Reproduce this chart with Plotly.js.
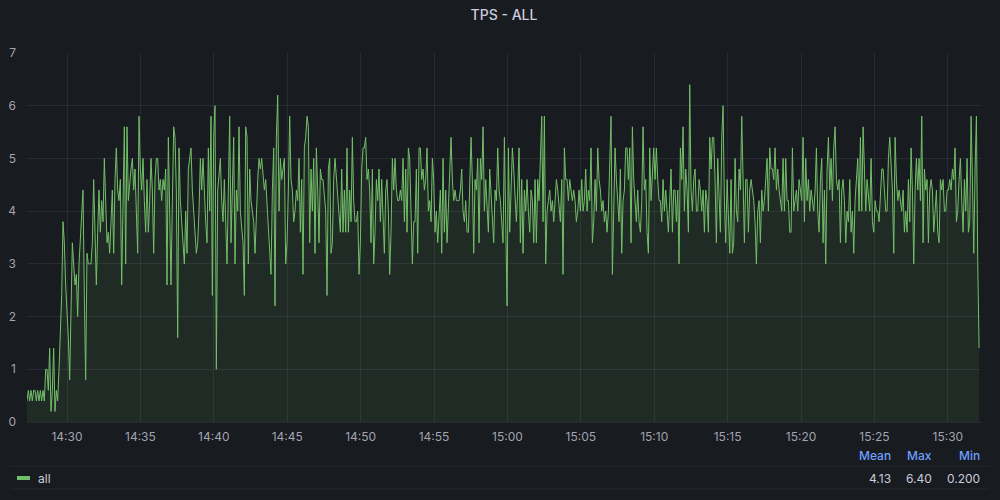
<!DOCTYPE html>
<html>
<head>
<meta charset="utf-8">
<script src="https://cdn.plot.ly/plotly-3.0.1.min.js"></script>
<style>
html,body{margin:0;padding:0;background:#181b1f;}
#chart{width:1000px;height:500px;}
</style>
</head>
<body>
<div id="chart"></div>
<script>
// ---- data ----
const seriesName = "all";
const startTime = "2024-01-01 14:27:16.5";
const stepMs = 5450;
const seg01 = [0.4,0.6,0.4,0.6,0.4,0.6,0.6,0.4,0.6,0.4,0.6,0.4,0.6,0.4,1.0,1.0,0.6,1.4,0.2,0.6,1.4,0.2,0.6,0.4,1.0,1.8,2.4,3.8,3.4,2.6,2.2,1.6,0.8,2.0,3.4,3.0,2.6,2.8,2.0,3.0,3.4,3.8,4.4,2.4,0.8,3.2,3.0,3.0,3.0,3.4,4.6,3.6,2.6,3.6,4.4];
const seg02 = [3.6,4.2,3.8,5.0,4.2,3.4,3.6,3.2,3.8,4.4,3.2,4.6,5.2,4.4,4.2,4.6,2.6,4.0,5.6,3.0,5.6,4.2,4.6,4.8,5.0,4.4,4.8,4.0,3.2,5.8,4.8,4.4,5.0,4.2,3.6,4.6,3.6,4.2,5.0,4.4,3.2,4.6,5.0,5.0,4.4,4.6,4.2,4.6,4.4,4.8,2.6,5.4,3.8,2.6,4.2,5.6,5.4,4.4,1.6,5.2];
const seg03 = [4.2,3.8,3.4,3.0,4.0,3.2,4.8,5.0,5.2,4.4,4.0,3.6,3.2,3.4,4.0,5.0,4.4,5.0,4.2,3.8,3.4,5.2,4.0,5.8,2.4,5.4,6.0,1.0,4.4,4.8,5.0,4.2,3.8,4.6,3.6,3.0,4.4,5.8,3.4,4.2,5.4,3.0,4.4,4.0,5.6,4.0,3.6,3.4,2.4,5.6,5.4,3.0,4.8,4.2,4.0,3.8,3.2,4.0,4.6,5.0];
const seg04 = [4.8,5.0,4.6,4.4,4.6,4.2,3.8,3.2,2.8,4.4,5.2,2.2,5.4,6.2,4.0,5.0,4.6,4.8,5.0,3.0,3.4,4.4,5.8,4.6,4.4,3.8,4.0,4.4,4.2,5.0,3.6,4.6,2.8,5.2,5.4,5.8,5.6,3.4,4.8,4.0,5.0,3.2,5.2,4.4,3.4,4.8,4.6,4.6,4.2,4.0,2.4,4.8,5.0,3.2,3.4,4.6,5.0,4.6,4.2,4.0];
const seg05 = [3.6,4.8,3.6,4.4,3.6,5.2,3.6,4.4,3.8,5.4,4.2,3.8,3.8,4.0,2.8,3.4,4.8,5.2,5.2,5.4,4.6,4.8,4.4,3.4,4.8,3.0,3.6,4.6,4.2,4.8,3.8,4.6,4.0,3.2,4.4,4.6,4.0,2.8,3.6,5.0,4.4,5.0,4.4,4.2,4.2,4.4,4.2,5.0,3.8,4.8,3.6,5.2,5.0,4.2,3.0,3.8,3.8,4.8,3.2,5.2];
const seg06 = [5.2,4.6,4.8,4.4,4.6,5.2,4.0,4.2,3.8,5.0,4.6,3.6,4.0,3.4,3.8,4.4,3.2,5.0,3.6,4.4,3.4,4.2,4.8,5.4,4.6,4.2,4.4,4.2,4.2,4.2,4.4,4.8,4.0,3.8,4.2,3.6,3.6,4.6,5.4,4.6,3.2,4.6,4.4,5.0,3.4,5.0,4.6,5.6,4.0,4.6,4.0,3.6,4.8,4.4,4.0,3.4,4.4,4.2,5.2,4.4];
const seg07 = [4.2,3.8,3.4,5.4,3.8,2.2,5.2,3.6,4.4,5.2,4.8,4.2,3.8,4.4,5.2,3.4,4.6,3.2,4.4,4.0,4.6,4.0,3.6,4.4,4.2,3.4,4.6,3.4,4.6,4.2,5.2,5.8,3.8,5.8,3.0,4.0,4.2,4.4,4.0,4.2,3.8,4.2,4.6,4.4,4.0,3.8,4.6,2.8,5.2,4.6,4.6,4.2,4.6,4.4,4.2,4.4,4.2,3.8,4.0,4.4];
const seg08 = [4.0,4.6,4.0,4.2,4.8,4.0,4.4,4.2,5.2,3.4,3.8,4.6,4.0,5.2,4.6,4.4,4.0,4.2,3.8,4.0,3.6,4.0,4.8,5.8,2.8,4.0,5.2,4.6,4.2,3.8,4.8,3.2,4.2,4.4,5.2,5.2,4.6,5.2,3.4,5.6,4.6,4.2,3.8,4.4,3.8,3.6,4.2,5.6,4.4,4.6,3.6,3.2,5.2,4.2,4.6,5.2,4.6,5.2,4.6,4.2];
const seg09 = [4.2,3.8,4.6,4.0,4.4,4.0,3.6,4.2,4.8,3.6,4.4,4.4,3.8,4.4,3.0,5.2,4.6,5.6,4.0,4.8,4.4,3.6,6.4,4.4,4.0,4.6,4.8,4.0,4.0,4.6,4.4,4.0,4.4,3.6,4.4,4.2,3.6,5.4,4.8,5.4,5.4,4.6,3.4,5.0,4.4,3.6,5.4,6.0,4.2,3.4,4.6,4.0,3.2,4.6,3.2,3.4,5.0,4.0,3.8,4.8];
const seg10 = [4.4,5.8,4.6,3.4,4.6,4.6,3.6,4.4,4.6,4.4,4.2,3.8,3.0,4.0,4.2,3.4,4.4,4.0,4.2,4.6,5.0,4.0,5.2,4.8,4.8,4.6,5.2,4.4,4.8,4.4,4.2,4.0,5.0,4.0,5.0,4.2,4.2,3.6,3.6,5.2,4.0,4.2,4.4,4.0,4.6,4.4,4.2,5.4,3.8,5.0,4.2,4.6,4.0,4.4,4.2,4.0,4.4,5.2,4.0,3.6];
const seg11 = [4.6,5.0,3.4,4.4,3.0,4.8,5.4,4.4,5.0,4.2,5.2,5.6,4.6,4.4,4.6,3.4,4.4,4.6,4.2,3.4,4.0,3.8,4.6,3.6,4.0,3.2,4.2,4.6,5.0,4.0,5.4,4.0,5.6,4.8,4.0,4.6,4.2,4.0,5.0,3.8,3.6,4.2,4.0,4.0,3.8,4.4,4.8,4.8,4.4,4.0,4.0,5.0,5.4,4.8,4.4,3.2,5.4,4.6,4.2,4.4];
const seg12 = [4.2,4.0,4.4,3.6,4.0,3.6,4.6,3.8,5.2,4.4,3.0,4.4,5.0,4.4,5.0,4.2,5.8,3.4,4.8,4.4,4.6,3.4,4.4,4.6,4.4,3.6,4.0,4.4,3.6,3.4,4.6,4.4,4.6,4.0,4.0,4.4,4.4,4.6,4.4,4.8,4.6,5.2,3.8,4.0,4.6,5.0,4.2,3.6,4.6,4.0,5.0,3.6,3.8,5.8,4.6,3.2,4.8,5.8,3.0,1.4];
const statHeaders = ["Mean", "Max", "Min"];
const statValues = ["4.13", "6.40", "0.200"];
const yTickVals = [0,1,2,3,4,5,6,7];

// ---- build series ----
const values = [].concat(seg01,seg02,seg03,seg04,seg05,seg06,seg07,seg08,seg09,seg10,seg11,seg12);
const t0 = Date.UTC(2024,0,1,14,27,16,500);
const times = values.map((v,i) => t0 + i*stepMs);

const COL_TEXT = "#ccccdc";
const COL_TICK = "rgba(204,204,220,0.78)";
const COL_GRID = "rgba(204,204,220,0.09)";
const GREEN = "#73bf69";

// plot area in px: x 27..981, y 53..422
const PL = 27, PR = 981, PT = 53, PB = 422;
const px = x => (x - PL) / (PR - PL);
const py = y => (PB - y) / (PB - PT);

const annotations = [];
const shapes = [];
// legend header / values (right-aligned columns)
const colRight = [893, 934, 982];
statHeaders.forEach((h,i) => {
  annotations.push({xref:'paper', yref:'paper', x:px(colRight[i]), y:py(455), xanchor:'right', yanchor:'middle',
    text:h, showarrow:false, font:{family:'Inter, sans-serif', size:12, color:'#6e9fff', weight:500}});
  annotations.push({xref:'paper', yref:'paper', x:px(colRight[i]), y:py(478), xanchor:'right', yanchor:'middle',
    text:statValues[i], showarrow:false, font:{family:'Inter, sans-serif', size:12, color:COL_TEXT}});
});
annotations.push({xref:'paper', yref:'paper', x:px(36), y:py(478), xanchor:'left', yanchor:'middle',
  text:seriesName, showarrow:false, font:{family:'Inter, sans-serif', size:12, color:COL_TEXT}});
shapes.push({type:'line', xref:'paper', yref:'paper', x0:px(17), x1:px(30), y0:py(478), y1:py(478),
  line:{color:GREEN, width:4}});
shapes.push({type:'line', xref:'paper', yref:'paper', x0:px(10), x1:px(990), y0:py(466), y1:py(466),
  line:{color:'rgba(204,204,220,0.08)', width:1}});
shapes.push({type:'line', xref:'paper', yref:'paper', x0:px(10), x1:px(990), y0:py(489), y1:py(489),
  line:{color:'rgba(204,204,220,0.08)', width:1}});

const trace = {
  x: times, y: values, type:'scatter', mode:'lines', name: seriesName,
  line:{color:GREEN, width:1}, fill:'tozeroy', fillcolor:'rgba(115,191,105,0.1)',
  hoverinfo:'skip'
};

const layout = {
  width:1000, height:500,
  paper_bgcolor:'#181b1f', plot_bgcolor:'#181b1f',
  margin:{l:PL, r:1000-PR, t:PT, b:500-PB},
  showlegend:false,
  font:{family:'Inter, sans-serif', color:COL_TEXT},
  title:{text:'TPS - ALL', x:0.5, xanchor:'center', xref:'paper', y:1-15/500, yref:'container', yanchor:'middle',
    font:{family:'Inter, sans-serif', size:14, color:COL_TEXT, weight:500}},
  xaxis:{type:'date', range:[t0, Date.UTC(2024,0,1,15,32,15,600)],
    tick0: Date.UTC(2024,0,1,14,30,0), dtick: 5*60*1000, tickformat:'%H:%M',
    showgrid:true, gridcolor:COL_GRID, gridwidth:1, zeroline:false, showline:false,
    ticks:'', ticklabelstandoff:6,
    tickfont:{family:'Inter, sans-serif', size:12, color:COL_TICK}},
  yaxis:{range:[0,7], tickvals:yTickVals, ticktext:yTickVals.map(String),
    showgrid:true, gridcolor:COL_GRID, gridwidth:1, zeroline:true, zerolinecolor:COL_GRID, zerolinewidth:1, showline:false,
    ticks:'', ticklabelstandoff:10,
    tickfont:{family:'Inter, sans-serif', size:12, color:COL_TICK}},
  annotations: annotations,
  shapes: shapes
};

Plotly.newPlot('chart', [trace], layout, {displayModeBar:false, staticPlot:true});
</script>
</body>
</html>
